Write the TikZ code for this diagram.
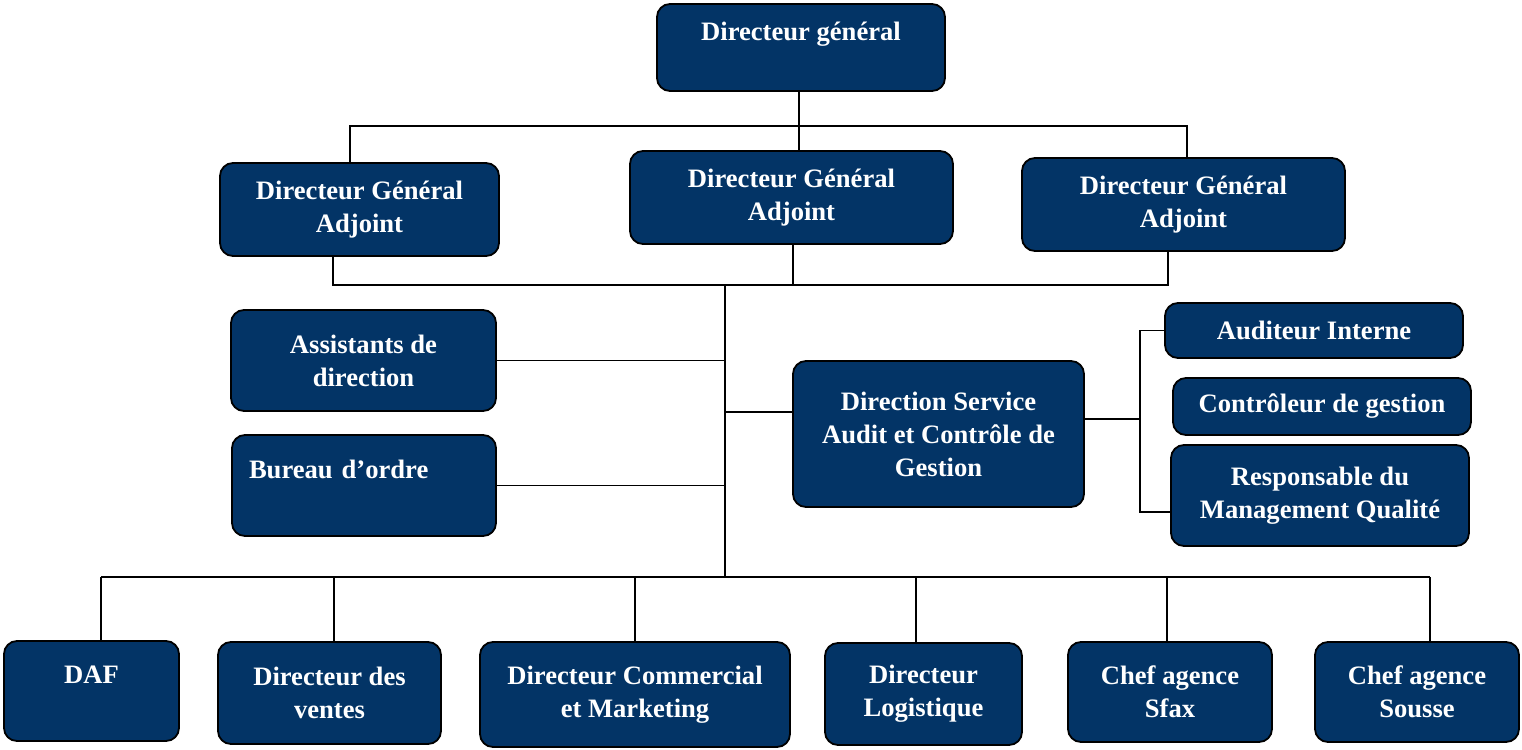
\documentclass[tikz,border=0pt]{standalone}
\usepackage{fontspec}
\setmainfont{Liberation Serif}
\definecolor{navy}{RGB}{3,52,102}
\tikzset{
  unit/.style={draw=black, fill=navy, text=white, rounded corners=6.5pt, line width=0.9pt,
    font=\fontsize{13.3}{16.5}\selectfont\bfseries, align=center, inner sep=2pt},
  boxsize/.style 2 args={minimum width=#1*0.5pt, minimum height=#2*0.5pt},
  link/.style={line width=0.9pt}
}
\begin{document}
\begin{tikzpicture}[x=0.5pt,y=-0.5pt]
    \useasboundingbox (0,0) rectangle (1522,750);
    \node[unit, boxsize={288}{87}] (dg) at (801,47.5) {Directeur général\\\mbox{}};
    \node[unit, boxsize={279}{93}] (dgaL) at (359.5,209.5) {Directeur Général\\Adjoint};
    \node[unit, boxsize={323}{93}] (dgaC) at (791.5,197.5) {Directeur Général\\Adjoint};
    \node[unit, boxsize={323}{93}] (dgaR) at (1183.5,204.5) {Directeur Général\\Adjoint};
    \node[unit, boxsize={265}{101}] (asst) at (363.5,360.5) {Assistants de\\direction};
    \node[unit, boxsize={264}{101}, inner xsep=8.5pt, text width=115pt, align=left] (bureau) at (364,485.5) {Bureau d’ordre\\\mbox{}};
    \node[unit, boxsize={291}{146}] (dsac) at (938.5,434) {Direction Service\\Audit et Contrôle de\\Gestion};
    \node[unit, boxsize={298}{55}] (audit) at (1314,330.5) {Auditeur Interne};
    \node[unit, boxsize={298}{57}] (ctrl) at (1322,406.5) {Contrôleur de gestion};
    \node[unit, boxsize={298}{101}] (rmq) at (1320,495.5) {Responsable du\\Management Qualité};
    \node[unit, boxsize={175}{100}] (daf) at (91.5,691) {DAF\\\mbox{}};
    \node[unit, boxsize={223}{102}] (dvente) at (329.5,693) {Directeur des\\ventes};
    \node[unit, boxsize={310}{105}] (dcm) at (635,694.5) {Directeur Commercial\\et Marketing};
    \node[unit, boxsize={197}{102}] (dlog) at (923.5,694) {Directeur\\Logistique};
    \node[unit, boxsize={204}{100}] (sfax) at (1170,692) {Chef agence\\Sfax};
    \node[unit, boxsize={204}{100}] (sousse) at (1417,692) {Chef agence\\Sousse};
    % liaisons
    \coordinate (topbus) at (799,126);
    \coordinate (tl) at (350,126);
    \coordinate (tr) at (1187,126);
    \coordinate (ml) at (333,285);
    \coordinate (mc) at (793,285);
    \coordinate (mr) at (1168,285);
    \coordinate (midbus) at (725,285);
    \coordinate (lowbus) at (725,577);
    \coordinate (dsacin) at (725,412);
    \coordinate (bt) at (1140,330.5);
    \coordinate (bm) at (1140,419);
    \coordinate (bb) at (1140,512);
    \draw[link] (dg.south -| topbus) -- (topbus |- dgaC.north);
    \draw[link] (tl |- dgaL.north) -- (tl) -- (tr) -- (tr |- dgaR.north);
    \draw[link] (ml |- dgaL.south) -- (ml) -- (mr) -- (mr |- dgaR.south);
    \draw[link] (mc |- dgaC.south) -- (mc);
    \draw[link] (midbus) -- (lowbus);
    \draw[link] (asst.east) -- (asst.east -| lowbus);
    \draw[link] (bureau.east) -- (bureau.east -| lowbus);
    \draw[link] (dsacin) -- (dsacin -| dsac.west);
    \draw[link] (bm -| dsac.east) -- (bm);
    \draw[link] (audit.west) -- (bt) -- (bb) -- (bb -| rmq.west);
    \draw[link] (101,577) -- (1430,577);
    \foreach \n/\x in {daf/101, dvente/334, dcm/635, dlog/916, sfax/1167, sousse/1430}
      \draw[link] (\x,577) -- (\x,577 |- \n.north);
  \end{tikzpicture}
\end{document}
